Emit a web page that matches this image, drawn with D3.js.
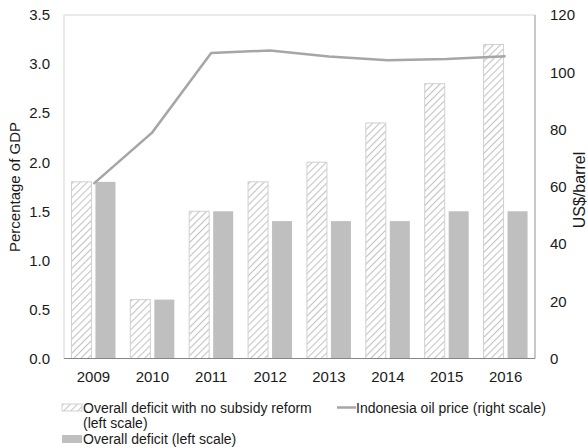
<!DOCTYPE html>
<html>
<head>
<meta charset="utf-8">
<script src="https://cdn.jsdelivr.net/npm/d3@7"></script>
<style>
  body { margin: 0; background: #fff; }
  svg { display: block; font-family: "Liberation Sans", Arial, sans-serif; }
</style>
</head>
<body>
<div id="chart"></div>
<script>
'use strict';

// chart data
const years = ["2009", "2010", "2011", "2012", "2013", "2014", "2015", "2016"];
const deficitNoReform = [1.8, 0.6, 1.5, 1.8, 2.0, 2.4, 2.8, 3.2];
const deficitActual = [1.8, 0.6, 1.5, 1.4, 1.4, 1.4, 1.5, 1.5];
const oilPrice = [61, 79, 106.7, 107.6, 105.5, 104.2, 104.6, 105.6];
const leftTicks = [0, 0.5, 1.0, 1.5, 2.0, 2.5, 3.0, 3.5];
const rightTicks = [0, 20, 40, 60, 80, 100, 120];

{ // start scope

const width = 588, height = 448;
const plot = { left: 64, right: 535, top: 15, bottom: 358.5 };

const svg = d3.select("#chart").append("svg")
    .attr("width", width)
    .attr("height", height);

// hatch pattern for "no subsidy reform" bars
const defs = svg.append("defs");
const pat = defs.append("pattern")
    .attr("id", "hatch")
    .attr("patternUnits", "userSpaceOnUse")
    .attr("width", 5)
    .attr("height", 5)
    .attr("patternTransform", "rotate(45)");
pat.append("rect").attr("width", 5).attr("height", 5).attr("fill", "#fff");
pat.append("line")
    .attr("x1", 0).attr("y1", 0).attr("x2", 0).attr("y2", 5)
    .attr("stroke", "#c4c4c4")
    .attr("stroke-width", 2.2);

const x = d3.scaleBand()
    .domain(years)
    .range([plot.left, plot.right]);

const yLeft = d3.scaleLinear().domain([0, 3.5]).range([plot.bottom, plot.top]);
const yRight = d3.scaleLinear().domain([0, 120]).range([plot.bottom, plot.top]);

const barW = 20, barGap = 4;

// plot frame
svg.append("rect")
    .attr("x", plot.left).attr("y", plot.top)
    .attr("width", plot.right - plot.left)
    .attr("height", plot.bottom - plot.top)
    .attr("fill", "none")
    .attr("stroke", "#d6d6d6")
    .attr("stroke-width", 1);
svg.append("line")
    .attr("x1", plot.right).attr("x2", plot.right)
    .attr("y1", plot.top).attr("y2", plot.bottom)
    .attr("stroke", "#a6a6a6");

// hatched bars
svg.append("g").selectAll("rect")
    .data(deficitNoReform)
    .enter()
    .append("rect")
    .attr("x", (d, i) => x(years[i]) + x.bandwidth() / 2 - barW - barGap / 2)
    .attr("y", d => yLeft(d))
    .attr("width", barW)
    .attr("height", d => yLeft(0) - yLeft(d))
    .attr("fill", "url(#hatch)")
    .attr("stroke", "#d0d0d0")
    .attr("stroke-width", 1);

// solid bars
svg.append("g").selectAll("rect")
    .data(deficitActual)
    .enter()
    .append("rect")
    .attr("x", (d, i) => x(years[i]) + x.bandwidth() / 2 + barGap / 2)
    .attr("y", d => yLeft(d))
    .attr("width", barW)
    .attr("height", d => yLeft(0) - yLeft(d))
    .attr("fill", "#bfbfbf");

// oil price line
const line = d3.line()
    .x((d, i) => x(years[i]) + x.bandwidth() / 2)
    .y(d => yRight(d));
svg.append("path")
    .datum(oilPrice)
    .attr("d", line)
    .attr("fill", "none")
    .attr("stroke", "#a6a6a6")
    .attr("stroke-width", 2.5);

// bottom axis line
svg.append("line")
    .attr("x1", plot.left).attr("x2", plot.right)
    .attr("y1", plot.bottom).attr("y2", plot.bottom)
    .attr("stroke", "#868686");

// axes
const axisLeft = svg.append("g")
    .attr("transform", `translate(${plot.left},0)`)
    .call(d3.axisLeft(yLeft).tickValues(leftTicks).tickFormat(d3.format(".1f")).tickSize(0).tickPadding(14));
const axisRight = svg.append("g")
    .attr("transform", `translate(${plot.right},0)`)
    .call(d3.axisRight(yRight).tickValues(rightTicks).tickSize(0).tickPadding(15));
const axisBottom = svg.append("g")
    .attr("transform", `translate(0,${plot.bottom})`)
    .call(d3.axisBottom(x).tickSize(0).tickPadding(13));

[axisLeft, axisRight, axisBottom].forEach(a => {
    a.select(".domain").remove();
    a.selectAll("text")
        .attr("fill", "#1a1a1a")
        .style("font-size", "15px")
        .style("font-family", "Liberation Sans, Arial, sans-serif");
});

// axis titles
svg.append("text")
    .attr("transform", `translate(20,187) rotate(-90)`)
    .attr("text-anchor", "middle")
    .attr("fill", "#1a1a1a")
    .style("font-size", "15px")
    .text("Percentage of GDP");
svg.append("text")
    .attr("transform", `translate(585,190) rotate(-90)`)
    .attr("text-anchor", "middle")
    .attr("fill", "#1a1a1a")
    .style("font-size", "16px")
    .text("US$/barrel");

// legend
const legend = svg.append("g").style("font-size", "14px").attr("fill", "#1a1a1a");

legend.append("rect")
    .attr("x", 62).attr("y", 404).attr("width", 20).attr("height", 7)
    .attr("fill", "url(#hatch)").attr("stroke", "#d0d0d0");
legend.append("text").attr("x", 83).attr("y", 413).text("Overall deficit with no subsidy reform");
legend.append("text").attr("x", 83).attr("y", 428).text("(left scale)");

legend.append("line")
    .attr("x1", 337).attr("x2", 356).attr("y1", 407.5).attr("y2", 407.5)
    .attr("stroke", "#a6a6a6").attr("stroke-width", 2.5);
legend.append("text").attr("x", 356).attr("y", 413).text("Indonesia oil price (right scale)");

legend.append("rect")
    .attr("x", 62).attr("y", 435).attr("width", 20).attr("height", 8)
    .attr("fill", "#bfbfbf");
legend.append("text").attr("x", 83).attr("y", 444).text("Overall deficit (left scale)");

} // end scope
</script>
</body>
</html>
